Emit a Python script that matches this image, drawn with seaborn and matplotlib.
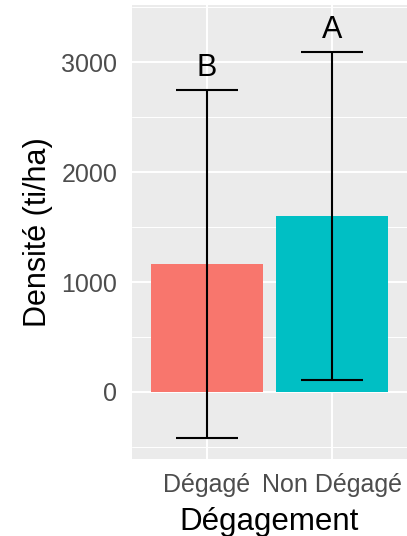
import matplotlib
matplotlib.use("Agg")
import matplotlib.pyplot as plt
import seaborn as sns
import pandas as pd
from matplotlib.ticker import MultipleLocator

# Mean stem density per release treatment, with the interval limits
categories = ["Dégagé", "Non Dégagé"]
means = [1165, 1600]
lower = [-420, 105]
upper = [2748, 3090]
letters = ["B", "A"]
colors = ["#F8766D", "#00BFC4"]

df = pd.DataFrame({"Dégagement": categories, "Densité": means})

sns.set_theme(style="darkgrid")
plt.rcParams["font.family"] = ["Liberation Sans", "DejaVu Sans"]

fig = plt.figure(figsize=(4.07, 5.36), dpi=100)
ax = fig.add_axes([132 / 407, 1 - 459 / 536, 275 / 407, 454 / 536])
ax.set_facecolor("#EBEBEB")

sns.barplot(data=df, x="Dégagement", y="Densité", hue="Dégagement",
            palette=colors, saturation=1, width=0.9, errorbar=None,
            legend=False, linewidth=0, ax=ax, zorder=2)

xs = list(range(len(categories)))
ax.vlines(xs, lower, upper, color="black", lw=1.5, zorder=3)
for x, lo, hi in zip(xs, lower, upper):
    ax.hlines([lo, hi], x - 0.25, x + 0.25, color="black", lw=1.5, zorder=3)

# significance letters above each interval
for x, hi, lab in zip(xs, upper, letters):
    ax.text(x, hi + 130, lab, ha="center", va="baseline", fontsize=22,
            color="black", zorder=4)

ax.set_xlim(-0.6, 1.6)
ax.set_ylim(-610, 3520)
ax.yaxis.set_major_locator(MultipleLocator(1000))
ax.yaxis.set_minor_locator(MultipleLocator(500))
ax.grid(which="major", color="white", lw=1.4)
ax.grid(which="minor", axis="y", color="white", lw=0.7)
ax.set_axisbelow(True)
for s in ax.spines.values():
    s.set_visible(False)

ax.tick_params(axis="both", which="major", length=4.5, width=1.2,
               color="#333333", labelcolor="#4D4D4D", labelsize=18)
ax.tick_params(axis="y", which="major", pad=6)
ax.tick_params(axis="x", which="major", pad=5.8)
ax.tick_params(axis="both", which="minor", length=0)
ax.set_xlabel("Dégagement", fontsize=22.5, color="black", labelpad=7)
ax.set_ylabel("Densité (ti/ha)", fontsize=22, color="black", labelpad=6)

fig.savefig("out.png", dpi=100)
